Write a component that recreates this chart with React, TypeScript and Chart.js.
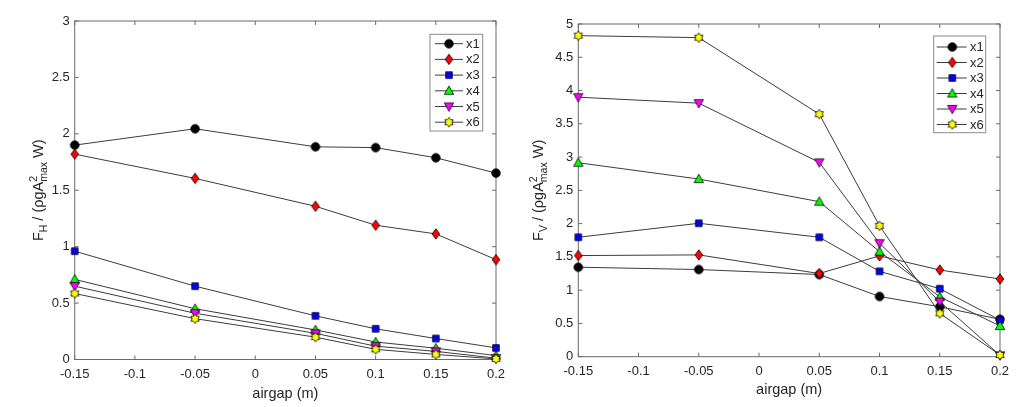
import React, { useEffect, useRef } from 'react';
import { Chart, registerables } from 'chart.js';

Chart.register(...registerables);

// ---------------- data ----------------
const airgap = [-0.15, -0.05, 0.05, 0.1, 0.15, 0.2];
const seriesNames = ['x1', 'x2', 'x3', 'x4', 'x5', 'x6'];

// F_H / (rho g A^2max W)
const fhX1 = [1.9, 2.045, 1.885, 1.878, 1.788, 1.652];
const fhX2 = [1.82, 1.605, 1.358, 1.19, 1.113, 0.885];
const fhX3 = [0.96, 0.65, 0.387, 0.272, 0.186, 0.103];
const fhX4 = [0.71, 0.45, 0.262, 0.155, 0.1, 0.035];
const fhX5 = [0.65, 0.41, 0.232, 0.118, 0.072, 0.012];
const fhX6 = [0.585, 0.362, 0.198, 0.09, 0.045, 0.005];

// F_V / (rho g A^2max W)
const fvX1 = [1.345, 1.31, 1.235, 0.905, 0.75, 0.562];
const fvX2 = [1.52, 1.53, 1.25, 1.515, 1.303, 1.168];
const fvX3 = [1.795, 2.005, 1.795, 1.283, 1.022, 0.55];
const fvX4 = [2.915, 2.67, 2.33, 1.58, 0.9, 0.462];
const fvX5 = [3.9, 3.81, 2.92, 1.705, 0.827, 0.02];
const fvX6 = [4.825, 4.795, 3.645, 1.967, 0.652, 0.025];

const xTicks = [-0.15, -0.1, -0.05, 0, 0.05, 0.1, 0.15, 0.2];
const xTickLabels = ['-0.15', '-0.1', '-0.05', '0', '0.05', '0.1', '0.15', '0.2'];
const fhTicks = [0, 0.5, 1, 1.5, 2, 2.5, 3];
const fhTickLabels = ['0', '0.5', '1', '1.5', '2', '2.5', '3'];
const fvTicks = [0, 0.5, 1, 1.5, 2, 2.5, 3, 3.5, 4, 4.5, 5];
const fvTickLabels = ['0', '0.5', '1', '1.5', '2', '2.5', '3', '3.5', '4', '4.5', '5'];
const xTitle = 'airgap (m)';

// ---------------- styling ----------------
const FONT = '"Liberation Sans", Arial, Helvetica, sans-serif';
const TEXT = '#262626';
const AXIS = '#6a6a6a';
const LINE = '#3c3c3c';

type MarkerKind = 'circle' | 'diamond' | 'square' | 'tri' | 'tridown' | 'hex';
const markerKinds: MarkerKind[] = ['circle', 'diamond', 'square', 'tri', 'tridown', 'hex'];
const markerFills = ['#000000', '#ff0000', '#0000ff', '#00ff00', '#ff00ff', '#ffff00'];

function makeMarker(kind: MarkerKind, fill: string): HTMLCanvasElement {
  const S = 14;
  const c = document.createElement('canvas');
  c.width = S;
  c.height = S;
  const g = c.getContext('2d')!;
  const cx = S / 2;
  const cy = S / 2;
  g.fillStyle = fill;
  g.strokeStyle = '#000';
  g.lineWidth = 0.8;
  g.beginPath();
  switch (kind) {
    case 'circle':
      g.arc(cx, cy, 4.3, 0, Math.PI * 2);
      break;
    case 'diamond':
      g.moveTo(cx, cy - 5.2);
      g.lineTo(cx + 3.8, cy);
      g.lineTo(cx, cy + 5.2);
      g.lineTo(cx - 3.8, cy);
      g.closePath();
      break;
    case 'square':
      g.rect(cx - 3.3, cy - 3.3, 6.6, 6.6);
      break;
    case 'tri':
      g.moveTo(cx, cy - 4.8);
      g.lineTo(cx + 4.7, cy + 3.6);
      g.lineTo(cx - 4.7, cy + 3.6);
      g.closePath();
      break;
    case 'tridown':
      g.moveTo(cx, cy + 4.8);
      g.lineTo(cx + 4.7, cy - 3.6);
      g.lineTo(cx - 4.7, cy - 3.6);
      g.closePath();
      break;
    case 'hex': {
      const ro = 4.8;
      const ri = 3.0;
      for (let k = 0; k < 12; k++) {
        const r = k % 2 === 0 ? ro : ri;
        const a = -Math.PI / 2 + (k * Math.PI) / 6;
        const px = cx + r * Math.cos(a);
        const py = cy + r * Math.sin(a);
        if (k === 0) g.moveTo(px, py);
        else g.lineTo(px, py);
      }
      g.closePath();
      break;
    }
  }
  g.fill();
  g.stroke();
  return c;
}

// rotated y-axis title with sub/superscripts
function drawYTitle(ctx: CanvasRenderingContext2D, baseX: number, centerY: number, subLetter: string) {
  const big = `14.5px ${FONT}`;
  const small = `10.5px ${FONT}`;
  type Part = { text: string; font: string; dy?: number } | { stack: { text: string; dy: number }[]; font: string };
  const parts: Part[] = [
    { text: 'F', font: big },
    { text: subLetter, font: small, dy: 3.5 },
    { text: ' / (', font: big },
    { text: 'ρ', font: big },
    { text: 'gA', font: big },
    { stack: [{ text: '2', dy: -6.5 }, { text: 'max', dy: 3.5 }], font: small },
    { text: ' W)', font: big },
  ];
  ctx.save();
  const widths = parts.map((p) => {
    ctx.font = p.font;
    if ('stack' in p) return Math.max(...p.stack.map((s) => ctx.measureText(s.text).width));
    return ctx.measureText(p.text).width;
  });
  const total = widths.reduce((a, b) => a + b, 0);
  ctx.translate(baseX, centerY);
  ctx.rotate(-Math.PI / 2);
  ctx.fillStyle = TEXT;
  ctx.textBaseline = 'alphabetic';
  ctx.textAlign = 'left';
  let x = -total / 2;
  parts.forEach((p, i) => {
    ctx.font = p.font;
    if ('stack' in p) {
      p.stack.forEach((s) => ctx.fillText(s.text, x, s.dy));
    } else {
      ctx.fillText(p.text, x, p.dy || 0);
    }
    x += widths[i];
  });
  ctx.restore();
}

type PanelCfg = {
  width: number;
  plot: { left: number; right: number; top: number; bottom: number };
  series: number[][];
  yMax: number;
  yTicks: number[];
  yTickLabels: string[];
  yTitleSub: string;
  yTitleX: number;
  xTitlePadBottom: number;
  legend: { x: number; y: number; w: number; h: number; row0: number; rowGap: number; l0: number; l1: number; mx: number; tx: number };
};

const markers = markerKinds.map((k, i) => makeMarker(k, markerFills[i]));

function buildConfig(cfg: PanelCfg): any {
  const H = 407;
  const frame = {
    id: 'matlabFrame',
    beforeDatasetsDraw(chart: any) {
      const { ctx, chartArea: a, scales } = chart;
      ctx.save();
      ctx.strokeStyle = AXIS;
      ctx.lineWidth = 1;
      ctx.strokeRect(a.left, a.top, a.right - a.left, a.bottom - a.top);
      const TL = 4;
      ctx.beginPath();
      xTicks.forEach((v) => {
        const px = scales.x.getPixelForValue(v);
        ctx.moveTo(px, a.bottom);
        ctx.lineTo(px, a.bottom - TL);
        ctx.moveTo(px, a.top);
        ctx.lineTo(px, a.top + TL);
      });
      cfg.yTicks.forEach((v) => {
        const py = scales.y.getPixelForValue(v);
        ctx.moveTo(a.left, py);
        ctx.lineTo(a.left + TL, py);
        ctx.moveTo(a.right, py);
        ctx.lineTo(a.right - TL, py);
      });
      ctx.stroke();
      ctx.restore();
      drawYTitle(ctx, cfg.yTitleX, (a.top + a.bottom) / 2, cfg.yTitleSub);
    },
    afterDraw(chart: any) {
      const { ctx } = chart;
      const L = cfg.legend;
      ctx.save();
      ctx.fillStyle = '#ffffff';
      ctx.fillRect(L.x, L.y, L.w, L.h);
      ctx.strokeStyle = '#8a8a8a';
      ctx.lineWidth = 1;
      ctx.strokeRect(L.x, L.y, L.w, L.h);
      ctx.font = `13px ${FONT}`;
      ctx.textBaseline = 'middle';
      ctx.textAlign = 'left';
      seriesNames.forEach((name, i) => {
        const ry = L.row0 + i * L.rowGap;
        ctx.strokeStyle = LINE;
        ctx.beginPath();
        ctx.moveTo(L.l0, ry);
        ctx.lineTo(L.l1, ry);
        ctx.stroke();
        const m = markers[i];
        ctx.drawImage(m, L.mx - m.width / 2, ry - m.height / 2);
        ctx.fillStyle = TEXT;
        ctx.fillText(name, L.tx, ry + 0.5);
      });
      ctx.restore();
    },
  };

  return {
    type: 'line',
    data: {
      datasets: cfg.series.map((vals, i) => ({
        label: seriesNames[i],
        data: airgap.map((x, j) => ({ x, y: vals[j] })),
        borderColor: LINE,
        borderWidth: 1,
        pointStyle: markers[i],
        pointRadius: 5,
        pointHoverRadius: 5,
        fill: false,
        tension: 0,
        clip: false,
        order: seriesNames.length - 1 - i,
      })),
    },
    options: {
      animation: false,
      responsive: false,
      devicePixelRatio: 1,
      events: [],
      layout: {
        padding: { left: 0, top: cfg.plot.top, right: cfg.width - cfg.plot.right, bottom: 0 },
      },
      plugins: { legend: { display: false }, tooltip: { enabled: false }, title: { display: false } },
      scales: {
        x: {
          type: 'linear',
          min: -0.15,
          max: 0.2,
          grid: { display: false, drawTicks: false },
          border: { display: false },
          afterBuildTicks: (s: any) => {
            s.ticks = xTicks.map((v) => ({ value: v }));
          },
          afterFit: (s: any) => {
            s.height = H - cfg.plot.bottom;
          },
          ticks: {
            autoSkip: false,
            maxRotation: 0,
            minRotation: 0,
            padding: 7,
            color: TEXT,
            font: { family: FONT, size: 13 },
            callback: (_v: any, idx: number) => xTickLabels[idx],
          },
          title: {
            display: true,
            text: xTitle,
            color: TEXT,
            font: { family: FONT, size: 14.5 },
            padding: { top: 0, bottom: cfg.xTitlePadBottom },
          },
        },
        y: {
          type: 'linear',
          min: 0,
          max: cfg.yMax,
          grid: { display: false, drawTicks: false },
          border: { display: false },
          afterBuildTicks: (s: any) => {
            s.ticks = cfg.yTicks.map((v) => ({ value: v }));
          },
          afterFit: (s: any) => {
            s.width = cfg.plot.left;
          },
          ticks: {
            autoSkip: false,
            padding: 5,
            color: TEXT,
            font: { family: FONT, size: 13 },
            callback: (_v: any, idx: number) => cfg.yTickLabels[idx],
          },
        },
      },
    },
    plugins: [frame],
  };
}

const leftCfg: PanelCfg = {
  width: 517,
  plot: { left: 74.7, right: 496, top: 21, bottom: 359.5 },
  series: [fhX1, fhX2, fhX3, fhX4, fhX5, fhX6],
  yMax: 3,
  yTicks: fhTicks,
  yTickLabels: fhTickLabels,
  yTitleSub: 'H',
  yTitleX: 43,
  xTitlePadBottom: 4.4,
  legend: { x: 430, y: 34.3, w: 52.7, h: 96.7, row0: 43.7, rowGap: 15.7, l0: 435, l1: 463, mx: 449, tx: 466 },
};

const rightCfg: PanelCfg = {
  width: 516,
  plot: { left: 61.3, right: 483, top: 24, bottom: 356.7 },
  series: [fvX1, fvX2, fvX3, fvX4, fvX5, fvX6],
  yMax: 5,
  yTicks: fvTicks,
  yTickLabels: fvTickLabels,
  yTitleSub: 'V',
  yTitleX: 26,
  xTitlePadBottom: 8.4,
  legend: { x: 416.7, y: 36, w: 52, h: 96.7, row0: 47, rowGap: 15.5, l0: 419.7, l1: 449.7, mx: 435.3, tx: 453 },
};

function Panel({ left, cfg }: { left: number; cfg: PanelCfg }) {
  const ref = useRef<HTMLCanvasElement>(null);
  useEffect(() => {
    const chart = new Chart(ref.current!, buildConfig(cfg));
    return () => chart.destroy();
  }, []);
  return (
    <canvas
      ref={ref}
      width={cfg.width}
      height={407}
      style={{ position: 'absolute', left, top: 0, width: cfg.width, height: 407 }}
    />
  );
}

export default function App() {
  return (
    <div style={{ position: 'absolute', left: 0, top: 0, width: 1033, height: 407, background: '#ffffff', overflow: 'hidden' }}>
      <Panel left={0} cfg={leftCfg} />
      <Panel left={517} cfg={rightCfg} />
    </div>
  );
}
